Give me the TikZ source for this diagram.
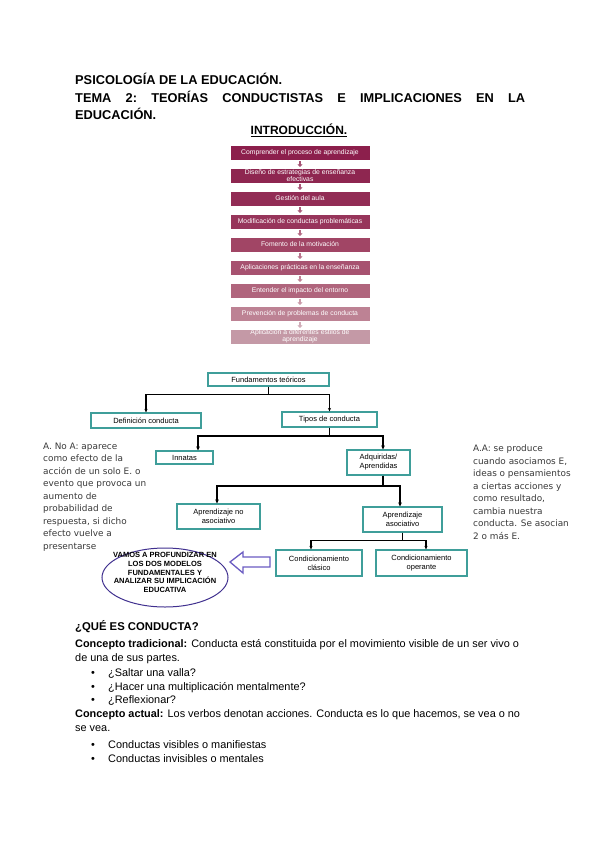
\documentclass[tikz,border=0pt]{standalone}
\usepackage{fontspec}
\setmainfont{Liberation Sans}
\newfontfamily\notefont{DejaVu Sans}
\usetikzlibrary{shapes.geometric,arrows.meta,calc}
\definecolor{fcA}{HTML}{8C1F4C}
\definecolor{fcB}{HTML}{8E2650}
\definecolor{fcC}{HTML}{922C55}
\definecolor{fcD}{HTML}{97355B}
\definecolor{fcE}{HTML}{A14565}
\definecolor{fcF}{HTML}{A75270}
\definecolor{fcG}{HTML}{B0657D}
\definecolor{fcH}{HTML}{BD8294}
\definecolor{fcI}{HTML}{C499A6}
\definecolor{tealb}{HTML}{3F9E9A}
\definecolor{notegray}{HTML}{3A3A3A}
\definecolor{ellc}{HTML}{40308F}
\definecolor{arrc}{HTML}{6B5CC2}
\tikzset{
  flowbox/.style={fill=#1, draw=white, line width=0.4pt, text=white, minimum width=140, minimum height=15, inner sep=0.3pt, align=center, font=\fontsize{6.8}{6.9}\selectfont},
  flowarr/.style={draw=#1, line width=2pt, -{Triangle[length=2.6pt,width=5pt]}, shorten <=1.2pt, shorten >=0.8pt},
  tbox/.style={draw=tealb, line width=1.3pt, fill=white, align=center, inner sep=0.5pt, font=\fontsize{7.5}{9}\selectfont},
  conn/.style={draw=black, line width=1.1pt, -{Stealth[length=3.5pt,width=3.2pt]}},
  connb/.style={draw=black, line width=1.7pt, -{Stealth[length=4pt,width=3.8pt]}},
  txt/.style={anchor=base west, inner sep=0, font=\fontsize{10.9}{13}\selectfont},
  note/.style={anchor=north west, inner sep=0, align=left, text=notegray, font=\notefont\fontsize{8.9}{12.5}\selectfont},
}
\begin{document}
\begin{tikzpicture}[x=1pt,y=-1pt]
\useasboundingbox[fill=white] (0,0) rectangle (600,848);

% titles
\node[txt, font=\fontsize{12.8}{15}\selectfont\bfseries] (t1) at (75,85) {PSICOLOGÍA DE LA EDUCACIÓN.};
\node[txt, font=\fontsize{12.8}{15}\selectfont\bfseries] (t2) at (75,102.5) {\frenchspacing\makebox[450pt][s]{TEMA 2: TEORÍAS CONDUCTISTAS E IMPLICACIONES EN LA}};
\node[txt, font=\fontsize{12.8}{15}\selectfont\bfseries] (t3) at (75,119.3) {EDUCACIÓN.};
\node[anchor=base, inner sep=0, font=\fontsize{12}{14}\selectfont\bfseries] (intro) at (299,135) {\underline{INTRODUCCIÓN.}};

% flowchart
\node[flowbox=fcA] (f1) at (300,152.5) {Comprender el proceso de aprendizaje};
\node[flowbox=fcB] (f2) at (300,175.5) {Diseño de estrategias de enseñanza\\efectivas};
\node[flowbox=fcC] (f3) at (300,198.5) {Gestión del aula};
\node[flowbox=fcD] (f4) at (300,221.5) {Modificación de conductas problemáticas};
\node[flowbox=fcE] (f5) at (300,244.5) {Fomento de la motivación};
\node[flowbox=fcF] (f6) at (300,267.5) {Aplicaciones prácticas en la enseñanza};
\node[flowbox=fcG] (f7) at (300,290.5) {Entender el impacto del entorno};
\node[flowbox=fcH] (f8) at (300,313.5) {Prevención de problemas de conducta};
\node[flowbox=fcI] (f9) at (300,336.5) {Aplicación a diferentes estilos de\\aprendizaje};
\draw[flowarr=fcB!80!white] (f1) -- (f2);
\draw[flowarr=fcC!80!white] (f2) -- (f3);
\draw[flowarr=fcD!80!white] (f3) -- (f4);
\draw[flowarr=fcE!80!white] (f4) -- (f5);
\draw[flowarr=fcF!80!white] (f5) -- (f6);
\draw[flowarr=fcG!80!white] (f6) -- (f7);
\draw[flowarr=fcH!80!white] (f7) -- (f8);
\draw[flowarr=fcI!80!white] (f8) -- (f9);

% tree
\node[tbox, minimum width=121, minimum height=13] (fund) at (268.5,379.5) {Fundamentos teóricos};
\node[tbox, minimum width=110, minimum height=15] (def) at (146,420.5) {Definición conducta};
\node[tbox, minimum width=95, minimum height=15] (tipos) at (329.5,419.5) {Tipos de conducta};
\node[tbox, minimum width=57, minimum height=13] (inn) at (184.5,457.5) {Innatas};
\node[tbox, minimum width=63, minimum height=25] (adq) at (378.5,462.5) {Adquiridas/\\Aprendidas};
\node[tbox, minimum width=83, minimum height=25] (noasoc) at (218.5,516.5) {Aprendizaje no\\asociativo};
\node[tbox, minimum width=79, minimum height=25] (asoc) at (402.5,519.5) {Aprendizaje\\asociativo};
\node[tbox, minimum width=86, minimum height=26] (clas) at (319,563) {Condicionamiento\\clásico};
\node[tbox, minimum width=91, minimum height=26] (oper) at (421.5,563) {Condicionamiento\\operante};

\draw[conn] (fund.south) -- ++(0,8) -| (def.north);
\draw[conn] (fund.south) -- ++(0,8) -| (tipos.north);
\draw[connb] (tipos.south) -- ++(0,8) -| ([xshift=13.5]inn.north);
\draw[connb] (tipos.south) -- ++(0,8) -| ([xshift=4.5]adq.north);
\draw[connb] ([xshift=4.5]adq.south) -- ++(0,10) -| ([xshift=-1.5]noasoc.north);
\draw[connb] ([xshift=4.5]adq.south) -- ++(0,10) -| ([xshift=-2.5]asoc.north);
\draw[conn] (asoc.south) -- ++(0,7.5) -| ([xshift=-8]clas.north);
\draw[conn] (asoc.south) -- ++(0,7.5) -| ([xshift=4.5]oper.north);

% ellipse and block arrow
\node[ellipse, draw=ellc, line width=1pt, minimum width=126, minimum height=59, inner sep=0] (ell) at (165,577.5) {};
\node[inner sep=0, align=center, font=\fontsize{7.5}{8.8}\selectfont\bfseries] (elltxt) at (165,572.5) {VAMOS A PROFUNDIZAR EN\\LOS DOS MODELOS\\FUNDAMENTALES Y\\ANALIZAR SU IMPLICACIÓN\\EDUCATIVA};
\draw[draw=arrc, line width=1.3pt, fill=white, line join=miter] (270,557) -- (243,557) -- (243,552) -- (230,562) -- (243,573) -- (243,567) -- (270,567) -- cycle;

% side notes
\node[note] (lnote) at (43,442.5) {A. No A: aparece\\como efecto de la\\acción de un solo E. o\\evento que provoca un\\aumento de\\probabilidad de\\respuesta, si dicho\\efecto vuelve a\\presentarse};
\node[note] (rnote) at (473,445) {A.A: se produce\\cuando asociamos E,\\ideas o pensamientos\\a ciertas acciones y\\como resultado,\\cambia nuestra\\conducta. Se asocian\\2 o más E.};

% bottom text
\node[txt, font=\fontsize{11.3}{13}\selectfont\bfseries] (q) at (75,630.7) {¿QUÉ ES CONDUCTA?};
\node[txt] (c1) at (75,647.3) {\textbf{Concepto tradicional:} Conducta está constituida por el movimiento visible de un ser vivo o};
\node[txt] (c2) at (75,661.7) {de una de sus partes.};
\node[txt, anchor=base] (b1) at (93,676.7) {\textbullet};
\node[txt] (l1) at (108,676.7) {¿Saltar una valla?};
\node[txt, anchor=base] (b2) at (93,690) {\textbullet};
\node[txt] (l2) at (108,690) {¿Hacer una multiplicación mentalmente?};
\node[txt, anchor=base] (b3) at (93,703.3) {\textbullet};
\node[txt] (l3) at (108,703.3) {¿Reflexionar?};
\node[txt] (c3) at (75,717.3) {\textbf{Concepto actual:} Los verbos denotan acciones. Conducta es lo que hacemos, se vea o no};
\node[txt] (c4) at (75,731.7) {se vea.};
\node[txt, anchor=base] (b4) at (93,748.3) {\textbullet};
\node[txt] (l4) at (108,748.3) {Conductas visibles o manifiestas};
\node[txt, anchor=base] (b5) at (93,762.7) {\textbullet};
\node[txt] (l5) at (108,762.7) {Conductas invisibles o mentales};
\end{tikzpicture}
\end{document}
